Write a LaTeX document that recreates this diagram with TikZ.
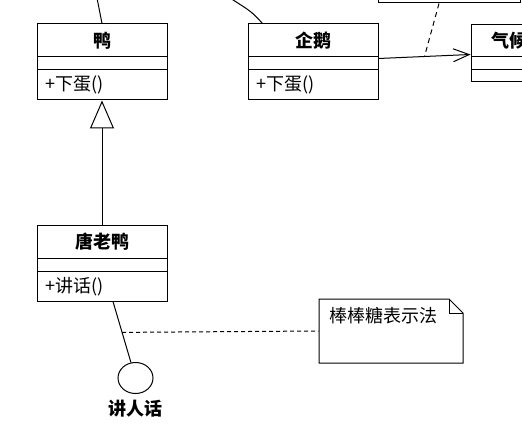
\documentclass[tikz,border=0pt]{standalone}
\usepackage{fontspec}
\setmainfont{Noto Sans CJK SC}
\usetikzlibrary{arrows.meta,calc,shapes.geometric}

\newlength{\du}
\setlength{\du}{1pt}
\newcommand{\umlsize}{\fontsize{18}{21}\selectfont}

\tikzset{
  classname/.style={draw, fill=white, minimum width=130\du, minimum height=33\du, inner sep=0pt, font=\umlsize\bfseries},
  classattr/.style={draw, fill=white, minimum width=130\du, minimum height=13\du, inner sep=0pt},
  classmeth/.style={draw, fill=white, minimum width=130\du, minimum height=30\du, inner ysep=0pt, inner xsep=8.5\du, text width=113\du, align=left, font=\umlsize},
  notebody/.style={minimum width=144\du, minimum height=64\du, inner sep=0pt},
  notelink/.style={dash pattern=on 4\du off 3\du},
  ifacelabel/.style={font=\umlsize\bfseries},
}

\begin{document}
\begin{tikzpicture}
\pgftransformxscale{1.000000}
\pgftransformyscale{-1.000000}
\definecolor{dialinecolor}{rgb}{0.000000, 0.000000, 0.000000}
\pgfsetstrokecolor{dialinecolor}
\pgfsetlinewidth{1.000000\du}
\clip (0\du,0\du) rectangle (522\du,425\du);
\fill[white] (0\du,0\du) rectangle (522\du,425\du);
% note cut off at the top
\node[draw, fill=white, minimum width=142\du, minimum height=40\du] (topnote) at (449\du,-17\du) {};
% class ya
\node[classname] (yaname) at (102\du,40.5\du) {鸭};
\node[classattr] (yaattr) at (102\du,63.5\du) {};
\node[classmeth] (yameth) at (102\du,85\du) {+下蛋()};
% class qie'e
\node[classname] (qename) at (313\du,40.5\du) {企鹅};
\node[classattr] (qeattr) at (313\du,63.5\du) {};
\node[classmeth] (qemeth) at (313\du,85\du) {+下蛋()};
% class qihou
\node[classname, minimum width=76\du, minimum height=32\du] (qhname) at (509\du,41\du) {气候};
\node[classattr, minimum width=76\du] (qhattr) at (509\du,63.5\du) {};
\node[classattr, minimum width=76\du, minimum height=12\du] (qhmeth) at (509\du,76\du) {};
% class tanglaoya
\node[classname] (tlyname) at (102\du,241.5\du) {唐老鸭};
\node[classattr] (tlyattr) at (102\du,265\du) {};
\node[classmeth] (tlymeth) at (102\du,286.5\du) {+讲话()};
% lollipop
\node[draw, ellipse, minimum width=35\du, minimum height=31\du, inner sep=0pt] (talk) at (135.5\du,378\du) {};
\node[ifacelabel] (talklabel) at (135\du,409\du) {讲人话};
% note
\node[notebody] (note) at (391\du,331\du) {};
\draw (319\du,299\du)--(449\du,299\du)--(463\du,313\du)--(463\du,363\du)--(319\du,363\du)--cycle;
\draw (449\du,299\du)--(449\du,313\du)--(463\du,313\du);
\node[anchor=west, font=\umlsize] (notetext) at (326\du,316\du) {棒棒糖表示法};
% lines leaving the picture
\coordinate (upya) at (97\du,-2\du);
\coordinate (upqe) at (230\du,-2\du);
\draw (yaname.north) -- (upya);
\draw ($(qename.north west)+(15\du,0)$) .. controls (252\du,12\du) .. (upqe);
% association
\coordinate (qeout) at ($(qename.south east)+(0,1\du)$);
\coordinate (qhin) at ($(qhname.south west)+(0,-3\du)$);
\draw[-{Straight Barb[length=16pt, width=13pt]}] (qeout) -- (qhin);
\coordinate (assoc) at ($(qeout)!0.5!(qhin)$);
\draw[dash pattern=on 5\du off 4\du] ($(topnote.south)+(-10\du,0)$) -- (assoc);
% generalization
\draw[-{Triangle[open, length=28pt, width=24pt, fill=white]}] (tlyname.north) -- (yameth.south);
% interface
\coordinate (lolli) at ($(tlymeth.south west)!0.585!(tlymeth.south east)$);
\draw (lolli) -- (talk);
\coordinate (lollimid) at ($(lolli)!0.4!(talk.center)$);
\draw[notelink] (lollimid) -- (note.west);
\end{tikzpicture}
\end{document}
